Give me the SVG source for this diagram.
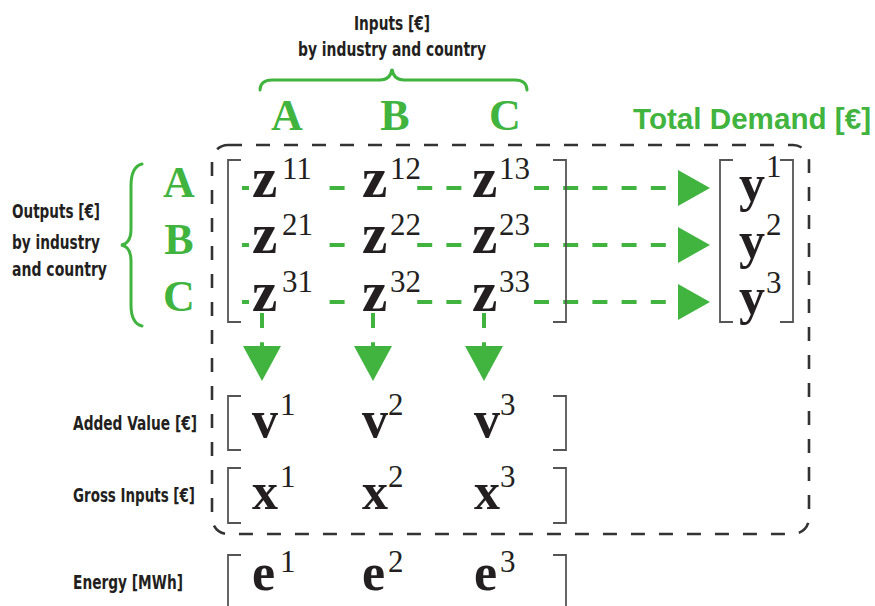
<svg xmlns="http://www.w3.org/2000/svg" width="875" height="606" viewBox="0 0 875 606">
<style>
  .lbl { font-family: "Liberation Sans Narrow", "DejaVu Sans Condensed", "DejaVu Sans", sans-serif; font-weight: bold; font-size: 19px; fill: #231f20; }
  .hdr { font-family: "Liberation Serif", "Times New Roman", serif; font-weight: bold; font-size: 44px; fill: #41b43f; text-anchor: middle; }
  .td { font-family: "Liberation Sans", Arial, sans-serif; font-weight: bold; font-size: 29px; fill: #41b43f; }
  .m { font-family: "Liberation Serif", "Times New Roman", serif; font-weight: bold; font-size: 52px; fill: #231f20; }
  .mz { font-size: 57px; }
  .sup { font-family: "Liberation Serif", "Times New Roman", serif; font-weight: normal; font-size: 31px; fill: #231f20; }
  .brace { fill: none; stroke: #41b43f; stroke-width: 3; stroke-linecap: round; }
  .brk { fill: none; stroke: #555; stroke-width: 1.8; }
  .box { fill: none; stroke: #333; stroke-width: 2.6; stroke-dasharray: 14 14; }
  .flow { stroke: #41b43f; stroke-width: 4; stroke-dasharray: 15 14.2; fill: none; }
  .head { fill: #41b43f; }
  .bg { fill: #fff; }
</style>

<g id="system-boundary">
  <rect class="box" x="212" y="145" width="597" height="389" rx="16" ry="16"/>
</g>

<g id="inputs-label">
  <text class="lbl" x="392" y="30" text-anchor="middle" textLength="76" lengthAdjust="spacingAndGlyphs">Inputs [€]</text>
  <text class="lbl" x="392" y="56" text-anchor="middle" textLength="188" lengthAdjust="spacingAndGlyphs">by industry and country</text>
  <path class="brace" d="M260,90 C260,84 264,80 272,80 L380,80 C387,80 391,76 392,69 C393,76 397,80 404,80 L515,80 C523,80 527,84 527,90"/>
  <text class="hdr" x="287" y="130">A</text>
  <text class="hdr" x="395" y="130">B</text>
  <text class="hdr" x="505" y="130">C</text>
</g>

<g id="outputs-label">
  <text class="lbl" x="12" y="218" textLength="88" lengthAdjust="spacingAndGlyphs">Outputs [€]</text>
  <text class="lbl" x="12" y="249" textLength="88" lengthAdjust="spacingAndGlyphs">by industry</text>
  <text class="lbl" x="12" y="276" textLength="95" lengthAdjust="spacingAndGlyphs">and country</text>
  <path class="brace" d="M142,164 C134,166 131,174 131,186 L131,229 C131,239 128,244 121,245 C128,246 131,251 131,261 L131,305 C131,317 134,324 142,326"/>
  <text class="hdr" x="179" y="197">A</text>
  <text class="hdr" x="179" y="254">B</text>
  <text class="hdr" x="179" y="311">C</text>
</g>

<g id="total-demand-label">
  <text class="td" x="633" y="129" textLength="238" lengthAdjust="spacingAndGlyphs">Total Demand [€]</text>
</g>

<g id="connectors">
  <line class="flow" x1="242" y1="188" x2="680" y2="188"/>
  <line class="flow" x1="242" y1="245" x2="680" y2="245"/>
  <line class="flow" x1="242" y1="302" x2="680" y2="302"/>
  <polygon class="head" points="678,170 710,188 678,206"/>
  <polygon class="head" points="678,227 710,245 678,263"/>
  <polygon class="head" points="678,284 710,302 678,320"/>
  <line class="flow" x1="262" y1="313" x2="262" y2="350"/>
  <line class="flow" x1="373" y1="313" x2="373" y2="350"/>
  <line class="flow" x1="484" y1="313" x2="484" y2="350"/>
  <polygon class="head" points="243,346 281,346 262,381"/>
  <polygon class="head" points="354,346 392,346 373,381"/>
  <polygon class="head" points="465,346 503,346 484,381"/>
</g>

<g id="matrix-Z">
  <path class="brk" d="M241,160 H228 V322 H241 M553,160 H566 V322 H553"/>
  <rect class="bg" x="249" y="178" width="78" height="20"/>
  <rect class="bg" x="346" y="178" width="71" height="20"/>
  <rect class="bg" x="463" y="178" width="69" height="20"/>
  <rect class="bg" x="249" y="235" width="78" height="20"/>
  <rect class="bg" x="346" y="235" width="71" height="20"/>
  <rect class="bg" x="463" y="235" width="69" height="20"/>
  <rect class="bg" x="249" y="292" width="78" height="20"/>
  <rect class="bg" x="346" y="292" width="71" height="20"/>
  <rect class="bg" x="463" y="292" width="69" height="20"/>
  <text class="m mz" x="252" y="197">z<tspan class="sup" x="282" y="179">11</tspan></text>
  <text class="m mz" x="362" y="197">z<tspan class="sup" x="390" y="179">12</tspan></text>
  <text class="m mz" x="472" y="197">z<tspan class="sup" x="499" y="179">13</tspan></text>
  <text class="m mz" x="252" y="253">z<tspan class="sup" x="282" y="235">21</tspan></text>
  <text class="m mz" x="362" y="253">z<tspan class="sup" x="390" y="235">22</tspan></text>
  <text class="m mz" x="472" y="253">z<tspan class="sup" x="499" y="235">23</tspan></text>
  <text class="m mz" x="252" y="311">z<tspan class="sup" x="282" y="292">31</tspan></text>
  <text class="m mz" x="362" y="311">z<tspan class="sup" x="390" y="292">32</tspan></text>
  <text class="m mz" x="472" y="311">z<tspan class="sup" x="499" y="292">33</tspan></text>
</g>

<g id="vector-y">
  <path class="brk" d="M733,160 H720 V322 H733 M780,160 H793 V322 H780"/>
  <text class="m" x="739" y="201">y<tspan class="sup" x="766" y="177">1</tspan></text>
  <text class="m" x="739" y="258">y<tspan class="sup" x="766" y="235">2</tspan></text>
  <text class="m" x="739" y="314">y<tspan class="sup" x="766" y="293">3</tspan></text>
</g>

<g id="vector-v">
  <text class="lbl" x="73" y="430" textLength="124" lengthAdjust="spacingAndGlyphs">Added Value [€]</text>
  <path class="brk" d="M241,396 H228 V450 H241 M553,396 H566 V450 H553"/>
  <text class="m" x="252" y="437">v<tspan class="sup" x="280" y="415">1</tspan></text>
  <text class="m" x="362" y="437">v<tspan class="sup" x="388" y="415">2</tspan></text>
  <text class="m" x="474" y="437">v<tspan class="sup" x="500" y="415">3</tspan></text>
</g>

<g id="vector-x">
  <text class="lbl" x="73" y="502" textLength="122" lengthAdjust="spacingAndGlyphs">Gross Inputs [€]</text>
  <path class="brk" d="M241,468 H228 V523 H241 M553,468 H566 V523 H553"/>
  <text class="m" x="252" y="509">x<tspan class="sup" x="280" y="487">1</tspan></text>
  <text class="m" x="362" y="509">x<tspan class="sup" x="388" y="487">2</tspan></text>
  <text class="m" x="474" y="509">x<tspan class="sup" x="500" y="487">3</tspan></text>
</g>

<g id="vector-e">
  <text class="lbl" x="73" y="589" textLength="110" lengthAdjust="spacingAndGlyphs">Energy [MWh]</text>
  <path class="brk" d="M241,555 H228 V612 M553,555 H566 V612"/>
  <text class="m" x="252" y="590">e<tspan class="sup" x="280" y="572">1</tspan></text>
  <text class="m" x="362" y="590">e<tspan class="sup" x="388" y="572">2</tspan></text>
  <text class="m" x="474" y="590">e<tspan class="sup" x="500" y="572">3</tspan></text>
</g>
</svg>
